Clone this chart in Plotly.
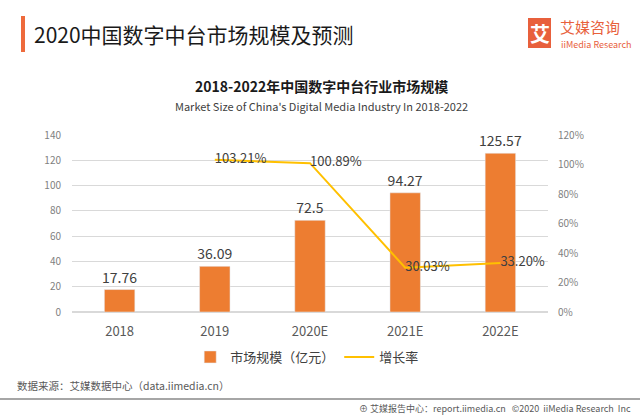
import plotly.graph_objects as go

categories = ["2018", "2019", "2020E", "2021E", "2022E"]
market_size = [17.76, 36.09, 72.5, 94.27, 125.57]
growth_rate = [None, 103.21, 100.89, 30.03, 33.20]
left_ticks = [0, 20, 40, 60, 80, 100, 120, 140]
right_ticks = [0, 20, 40, 60, 80, 100, 120]
right_tick_labels = ["0%", "20%", "40%", "60%", "80%", "100%", "120%"]

FONT = "Noto Sans CJK SC"
W, H = 640, 416
ML, MR, MT, MB = 72, 92, 135, 104
PW, PH = W - ML - MR, H - MT - MB

def px(x):
    return (x - ML) / PW

def py(y):
    return (H - MB - y) / PH

fig = go.Figure()
fig.add_trace(go.Bar(
    x=categories, y=market_size, name="市场规模（亿元）",
    marker_color="#ED7D31", width=0.32,
    text=market_size, texttemplate="%{y}", textposition="outside",
    textfont=dict(size=14, color="#404040", family=FONT),
    constraintext="none", cliponaxis=False,
))
fig.add_trace(go.Scatter(
    x=categories, y=growth_rate, name="增长率", yaxis="y2",
    mode="lines+text", line=dict(color="#FFC000", width=2),
    texttemplate="%{y:.2f}%", textposition="middle right",
    textfont=dict(size=13, color="#404040", family=FONT),
    cliponaxis=False,
))

fig.update_layout(
    width=W, height=H,
    margin=dict(l=ML, r=MR, t=MT, b=MB, autoexpand=False),
    paper_bgcolor="white", plot_bgcolor="white",
    font=dict(family=FONT, color="#595959"),
    showlegend=True,
    legend=dict(orientation="h", xref="container", yref="container",
                x=0.48, y=1 - 357 / H, xanchor="center", yanchor="middle",
                font=dict(size=13, color="#404040"), itemwidth=30,
                traceorder="normal"),
    bargap=0.5,
    xaxis=dict(tickfont=dict(size=13, color="#595959"), showline=False,
               showgrid=False, ticks="", ticklabelstandoff=10),
    yaxis=dict(range=[0, 140], tickvals=left_ticks, showgrid=True,
               gridcolor="#D9D9D9", gridwidth=1, zeroline=True,
               zerolinecolor="#D9D9D9", tickfont=dict(size=10, color="#7F7F7F"),
               ticks="", ticklabelstandoff=10),
    yaxis2=dict(range=[0, 120], tickvals=right_ticks, ticktext=right_tick_labels,
                overlaying="y", side="right", showgrid=False, zeroline=False,
                tickfont=dict(size=10, color="#7F7F7F"), ticks="",
                ticklabelstandoff=9),
)

shapes = [
    dict(type="rect", xref="paper", yref="paper",
         x0=px(21), x1=px(25), y0=py(52), y1=py(16),
         fillcolor="#EE6A3C", line=dict(width=0)),
    dict(type="rect", xref="paper", yref="paper",
         x0=px(528), x1=px(551), y0=py(48), y1=py(18),
         fillcolor="#E8603C", line=dict(width=0)),
    dict(type="line", xref="paper", yref="paper",
         x0=px(0), x1=px(640), y0=py(399), y1=py(399),
         line=dict(color="#A6A6A6", width=2)),
]
fig.update_layout(shapes=shapes)

def ann(text, x, y, size, color, xanchor="left", bold=False):
    if bold:
        text = "<b>" + text + "</b>"
    fig.add_annotation(text=text, xref="paper", yref="paper", x=px(x), y=py(y),
                       xanchor=xanchor, yanchor="middle", showarrow=False,
                       font=dict(size=size, color=color, family=FONT))

ann("2020中国数字中台市场规模及预测", 32, 34, 21, "#1A1A1A")
ann("艾", 539.5, 33, 20, "white", xanchor="center", bold=True)
ann("艾媒咨询", 558, 26, 15, "#E8603C")
ann("iiMedia Research", 559, 44, 9, "#E8603C")
ann("2018-2022年中国数字中台行业市场规模", 321, 86, 14, "#1A1A1A", xanchor="center", bold=True)
ann("Market Size of China's Digital Media Industry In 2018-2022", 321, 106, 11, "#404040", xanchor="center")
ann("数据来源：艾媒数据中心（data.iimedia.cn）", 15, 385, 10.5, "#595959")
ann("⊕ 艾媒报告中心：report.iimedia.cn   ©2020  iiMedia Research  Inc", 633, 408, 9, "#595959", xanchor="right")

fig.write_html("out.html", config={"displayModeBar": False},
               post_script="document.body.style.margin='0';")
